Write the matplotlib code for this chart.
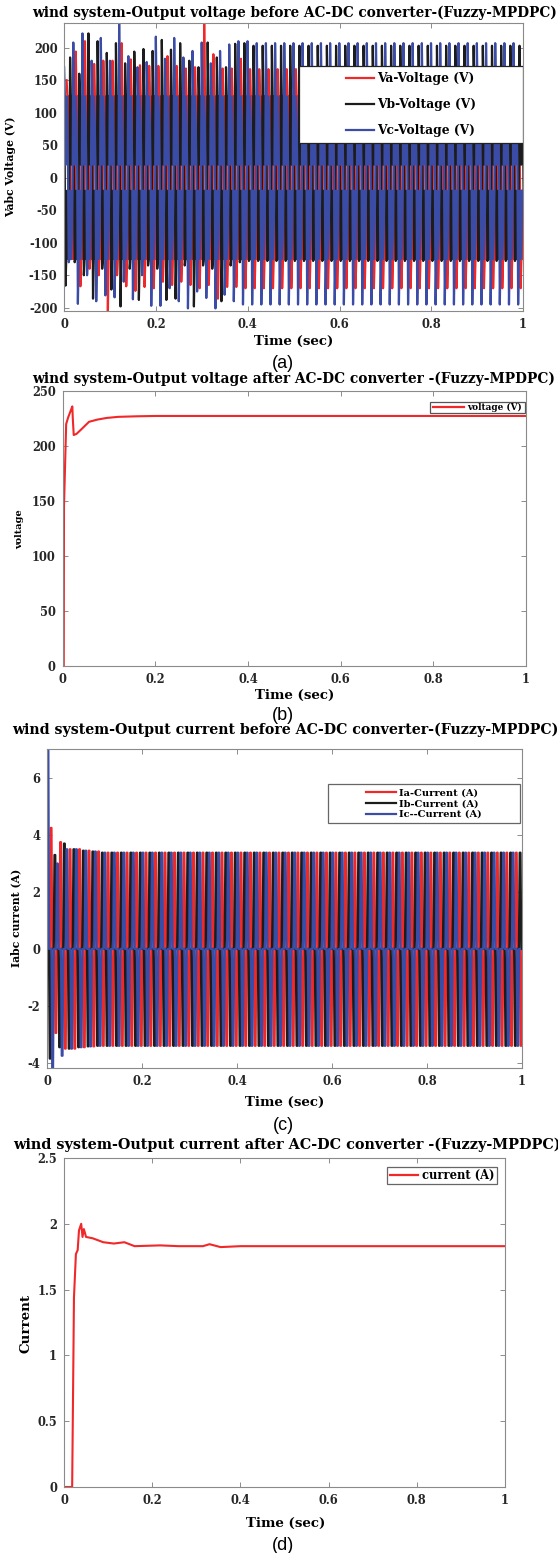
import numpy as np
import matplotlib.pyplot as plt
from matplotlib.patches import Rectangle
from matplotlib.ticker import FuncFormatter

plt.rcParams["font.family"] = ["DejaVu Serif"]
plt.rcParams["font.weight"] = "bold"

W, H = 558, 1553
period = 0.02
red, black, blue = "#f0282a", "#1c1c1c", "#3b4ca6"

# (a) phase voltages before the converter: spike value of every cycle
va_pos = [150, 194, 210, 175, 180, 180, 207, 182, 173, 172, 172, 187, 172, 168, 170, 238, 190, 168, 168, 183] + [167] * 30
va_neg = [-125, -167, -140, -150, -205, -150, -167, -174, -168, -170, -160, -165, -160, -165, -170, -165, -186, -168, -168, -170] + [-170] * 30
vb_pos = [0, 185, 160, 222, 210, 192, 207, 176, 194, 198, 195, 212, 197, 207, 180, 170, 208, 185, 170, 206, 207] + [203] * 30
vb_neg = [-166, -130, -150, -186, -140, -172, -198, -140, -188, -135, -140, -188, -186, -135, -198, -135, -140, -190, -135, -130] + [-128] * 31
vc_pos = [170, 208, 222, 180, 215, 180, 238, 187, 170, 178, 217, 183, 215, 185, 195, 208, 176, 195, 205, 210, 210] + [207] * 29
vc_neg = [-130, -194, -150, -190, -181, -184, -160, -187, -150, -197, -197, -170, -190, -201, -175, -185, -201, -180, -190, -195] + [-195] * 30
v_start = {"a": 0.0048, "b": -0.0076, "c": -0.0006}
# steps between two spikes (half period)
v_steps_pos = [125, 20, 125, 95, 20]
v_steps_neg = [-125, -20, -125, -95, -20]

# (b) dc voltage after the converter
vdc_t = [0, 0.0025, 0.003, 0.0055, 0.0077, 0.012, 0.018, 0.021, 0.022, 0.024, 0.03, 0.04, 0.057, 0.075, 0.095, 0.12, 0.16, 0.2, 1.0]
vdc = [0, 0, 145, 185, 220, 226, 232.7, 236, 225, 210, 211, 215, 222, 224, 225.5, 226.5, 227, 227.3, 227.3]

# (c) phase currents before the converter: pulse height of every cycle
ia_pos = [4.25, 3.75, 3.5, 3.5, 3.45, 3.42] + [3.38] * 44
ia_neg = [-2.95, -3.5, -3.5, -3.45, -3.42] + [-3.4] * 45
ib_pos = [0, 3.3, 3.7, 3.5, 3.45, 3.42] + [3.38] * 45
ib_neg = [-3.85, -3.45, -3.5, -3.45, -3.42] + [-3.4] * 46
ic_pos = [7.5, 3.0, 3.5, 3.5, 3.45, 3.42] + [3.38] * 44
ic_neg = [-4.2, -3.75, -3.5, -3.45, -3.42] + [-3.4] * 45
i_start = {"a": 0.0038, "b": -0.0082, "c": -0.0029}

# (d) dc current after the converter
idc_t = [0, 0.0185, 0.0226, 0.027, 0.031, 0.034, 0.039, 0.042, 0.045, 0.05, 0.065, 0.089, 0.113, 0.137, 0.16, 0.218, 0.26, 0.315, 0.33, 0.355, 0.4, 1.0]
idc = [0, 0, 1.44, 1.77, 1.80, 1.95, 2.0, 1.9, 1.96, 1.9, 1.89, 1.86, 1.85, 1.86, 1.83, 1.836, 1.83, 1.83, 1.845, 1.823, 1.83, 1.83]


def voltage_wave(start, pos, neg):
    vals = []
    for p, n in zip(pos, neg):
        vals += [p] + v_steps_pos + [n] + v_steps_neg
    t = start + np.arange(len(vals)) * period / 12
    return t, np.array(vals, dtype=float)


def current_wave(start, pos, neg):
    vals = []
    for p, n in zip(pos, neg):
        vals += [0, 0, p, p, 0, 0, 0, 0, n, n, 0, 0]
    t = start + np.arange(len(vals)) * period / 12
    return t, np.array(vals, dtype=float)


def px_axes(left, right, top, bottom):
    return fig.add_axes([left / W, 1 - bottom / H, (right - left) / W, (bottom - top) / H])


def ftext(x, y, s, **kw):
    fig.text(x / W, 1 - y / H, s, ha="center", va="center", **kw)


def style(ax, ylim, yticks):
    ax.set_xlim(0, 1)
    ax.set_ylim(*ylim)
    ax.set_xticks([0, 0.2, 0.4, 0.6, 0.8, 1])
    ax.set_yticks(yticks)
    fmt = FuncFormatter(lambda v, p: f"{v:g}")
    ax.xaxis.set_major_formatter(fmt)
    ax.yaxis.set_major_formatter(fmt)
    ax.tick_params(direction="in", top=True, right=True, length=3.5, width=0.6,
                   color="#7a7a7a", labelsize=8.3, labelcolor="#262626", pad=5)
    for s in ax.spines.values():
        s.set_color("#8a8a8a")
        s.set_linewidth(0.8)


def boxed_legend(ax, box, fs, hl, ls, edge):
    x0, x1, y0, y1 = box
    ax.add_patch(Rectangle((x0, y0), x1 - x0, y1 - y0, transform=ax.transAxes,
                           facecolor="white", edgecolor=edge, lw=0.9, zorder=4))
    leg = ax.legend(loc="center", bbox_to_anchor=((x0 + x1) / 2, (y0 + y1) / 2),
                    frameon=False, fontsize=fs, handlelength=hl, handletextpad=0.3,
                    labelspacing=ls, borderpad=0, borderaxespad=0)
    for h in leg.get_lines():
        h.set_linewidth(1.6)
    leg.set_zorder(5)


fig = plt.figure(figsize=(W / 100, H / 100), dpi=100)

# ---- (a)
ax = px_axes(64.4, 523, 23, 311)
for key, pos, neg, c, lab in [("a", va_pos, va_neg, red, "Va-Voltage (V)"),
                              ("b", vb_pos, vb_neg, black, "Vb-Voltage (V)"),
                              ("c", vc_pos, vc_neg, blue, "Vc-Voltage (V)")]:
    t, v = voltage_wave(v_start[key], pos, neg)
    ax.plot(t, v, color=c, lw=1.6, label=lab)
style(ax, (-205, 238), np.arange(-200, 201, 50))
boxed_legend(ax, (0.512, 1.0, 0.583, 0.851), 8.8, 2.3, 1.05, "#222222")

# ---- (b)
ax = px_axes(62.6, 526, 391, 666)
ax.plot(vdc_t, vdc, color=red, lw=1.5, label="voltage (V)")
style(ax, (0, 250), np.arange(0, 251, 50))
boxed_legend(ax, (0.793, 0.998, 0.92, 0.96), 6.4, 3.5, 0.2, "#555555")

# ---- (c)
ax = px_axes(47.3, 522, 749, 1068)
for key, pos, neg, c, lab in [("a", ia_pos, ia_neg, red, "Ia-Current (A)"),
                              ("b", ib_pos, ib_neg, black, "Ib-Current (A)"),
                              ("c", ic_pos, ic_neg, blue, "Ic--Current (A)")]:
    t, v = current_wave(i_start[key], pos, neg)
    ax.plot(t, v, color=c, lw=1.6, label=lab)
style(ax, (-4.18, 7.02), [-4, -2, 0, 2, 4, 6])
boxed_legend(ax, (0.591, 0.996, 0.768, 0.890), 7.1, 3.1, 0.2, "#666666")

# ---- (d)
ax = px_axes(64, 505, 1158, 1487)
ax.plot(idc_t, idc, color=red, lw=1.5, label="current (A)")
style(ax, (0, 2.5), [0, 0.5, 1, 1.5, 2, 2.5])
boxed_legend(ax, (0.732, 0.982, 0.921, 0.973), 8.3, 2.5, 0.2, "#666666")

# titles, axis labels and sub-captions
ftext(294, 13, "wind system-Output voltage before AC-DC converter-(Fuzzy-MPDPC)", fontsize=9.8)
ftext(294, 379, "wind system-Output voltage after AC-DC converter -(Fuzzy-MPDPC)", fontsize=9.95)
ftext(285, 730, "wind system-Output current before AC-DC converter-(Fuzzy-MPDPC)", fontsize=10.2)
ftext(287, 1145, "wind system-Output current after AC-DC converter -(Fuzzy-MPDPC)", fontsize=10.4)

for x, y in [(294, 341), (295, 695), (285, 1102), (286, 1523)]:
    ftext(x, y, "Time (sec)", fontsize=9.6)

ftext(11, 167, "Vabc Voltage (V)", fontsize=7.8, rotation=90)
ftext(20, 529, "voltage", fontsize=7.0, rotation=90)
ftext(16, 918, "Iabc current (A)", fontsize=7.8, rotation=90)
ftext(26, 1323, "Current", fontsize=9.6, rotation=90)

for y, s in [(363, "(a)"), (716, "(b)"), (1126, "(c)"), (1546, "(d)")]:
    ftext(283, y, s, fontsize=13, fontweight="normal",
          family=["Liberation Sans Narrow", "Liberation Sans", "DejaVu Sans"])

fig.savefig("out.png", dpi=100)
